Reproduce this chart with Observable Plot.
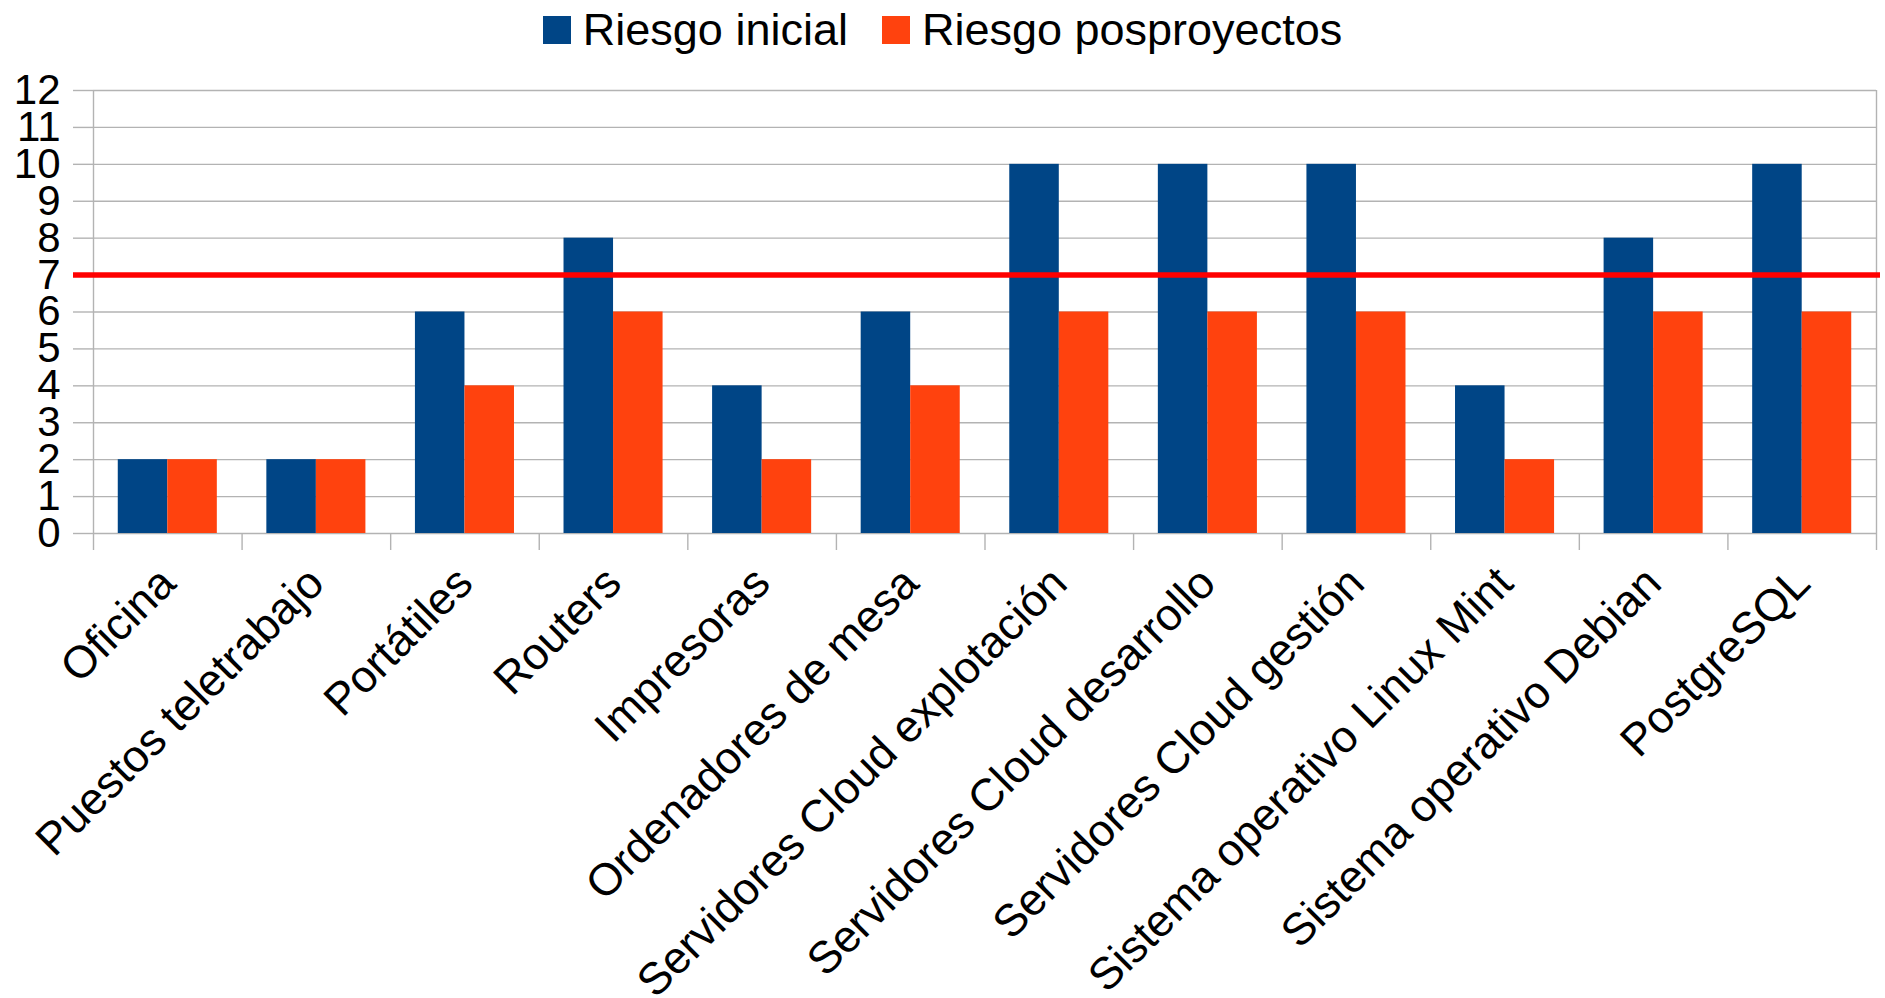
<!DOCTYPE html>
<html>
<head>
<meta charset="utf-8">
<script src="https://cdn.jsdelivr.net/npm/d3@7"></script>
<script src="https://cdn.jsdelivr.net/npm/@observablehq/plot@0.6"></script>
<style>
  html, body { margin: 0; padding: 0; background: #fff; }
  body { width: 1885px; height: 998px; overflow: hidden; font-family: "Liberation Sans", Arial, sans-serif; }
  #legend { height: 60px; display: flex; justify-content: center; align-items: center; font-size: 45px; color: #000; }
  .item { display: flex; align-items: center; }
  .sw { width: 28px; height: 28px; margin-right: 12px; }
  .gap { width: 34px; }
</style>
</head>
<body>
<div id="legend"></div>
<div id="chart"></div>
<script>
const categories = ["Oficina", "Puestos teletrabajo", "Portátiles", "Routers", "Impresoras",
  "Ordenadores de mesa", "Servidores Cloud explotación", "Servidores Cloud desarrollo",
  "Servidores Cloud gestión", "Sistema operativo Linux Mint", "Sistema operativo Debian", "PostgreSQL"];
const riesgoInicial = [2, 2, 6, 8, 4, 6, 10, 10, 10, 4, 8, 10];
const riesgoPosproyectos = [2, 2, 4, 6, 2, 4, 6, 6, 6, 2, 6, 6];
const seriesNames = ["Riesgo inicial", "Riesgo posproyectos"];
const seriesColors = ["#004586", "#ff420e"];
const yTicks = [0, 1, 2, 3, 4, 5, 6, 7, 8, 9, 10, 11, 12];
const threshold = 7;

// legend
const legend = document.getElementById("legend");
seriesNames.forEach((name, k) => {
  if (k > 0) { const g = document.createElement("div"); g.className = "gap"; legend.appendChild(g); }
  const it = document.createElement("div"); it.className = "item";
  const sw = document.createElement("div"); sw.className = "sw"; sw.style.background = seriesColors[k];
  const tx = document.createElement("span"); tx.textContent = name;
  it.appendChild(sw); it.appendChild(tx); legend.appendChild(it);
});

// group layout within each category slot: [start, end] fraction of slot per series
const slot = [[1/6, 1/2], [1/2, 5/6]];
const rows = [];
categories.forEach((c, i) => {
  [riesgoInicial, riesgoPosproyectos].forEach((vals, k) => {
    rows.push({cat: c, i, serie: seriesNames[k], k, value: vals[i]});
  });
});
const centers = categories.map((c, i) => ({cat: c, x: i + 0.5}));
const bounds = d3.range(categories.length + 1);
const grid = "#b3b3b3";

const chart = Plot.plot({
  width: 1885,
  height: 938,
  marginLeft: 93,
  marginRight: 9,
  marginTop: 30,
  marginBottom: 465,
  style: {fontFamily: "Liberation Sans, Arial, sans-serif", color: "#000", background: "#fff"},
  x: {domain: [0, categories.length], axis: null, label: null},
  y: {domain: [0, 12], axis: null, label: null},
  marks: [
    Plot.ruleY(yTicks, {stroke: grid, strokeWidth: 1.4}),
    Plot.axisY({ticks: yTicks, label: null, tickSize: 20, tickPadding: 13, stroke: grid, strokeWidth: 1.4, fontSize: 42, tickFormat: d => String(d)}),
    Plot.axisX({ticks: bounds, label: null, tickSize: 17, tickFormat: () => "", stroke: grid, strokeWidth: 1.4}),
    Plot.ruleX([0, categories.length], {stroke: grid, strokeWidth: 1.4}),
    Plot.rectY(rows, {
      x1: d => d.i + slot[d.k][0],
      x2: d => d.i + slot[d.k][1],
      y1: 0,
      y2: "value",
      fill: d => seriesColors[d.k]
    }),
    Plot.ruleY([threshold], {stroke: "#ff0000", strokeWidth: 5.5, insetLeft: -20, insetRight: -4}),
    Plot.text(centers, {
      x: "x", y: 0, text: "cat", rotate: -45, textAnchor: "end", lineAnchor: "middle",
      dy: 42, fontSize: 45, fill: "#000"
    })
  ]
});
document.getElementById("chart").appendChild(chart);
</script>
</body>
</html>
